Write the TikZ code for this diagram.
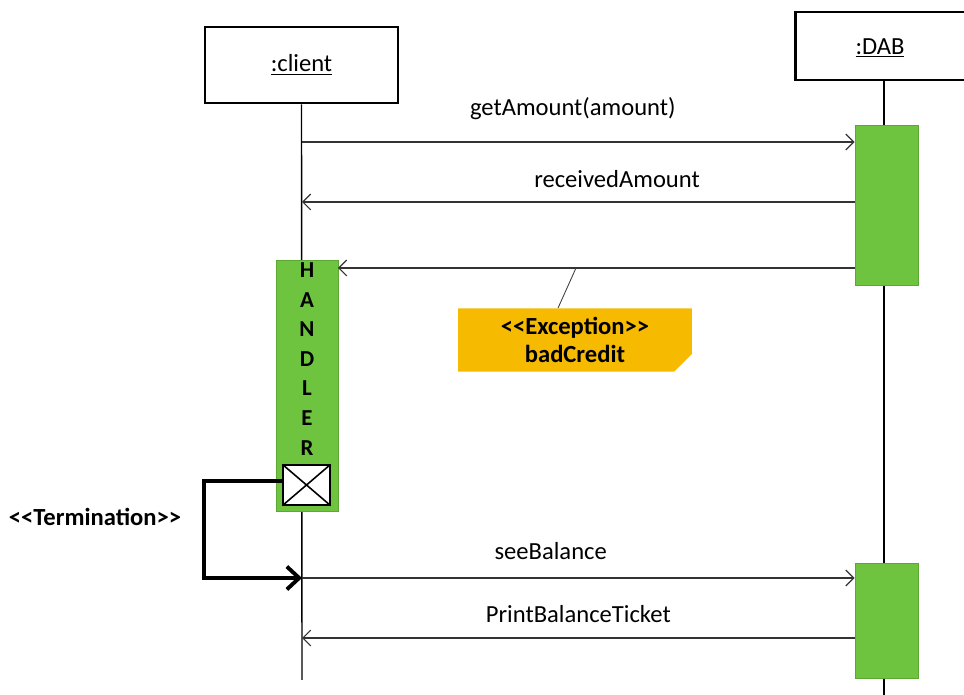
\documentclass[tikz,border=0pt]{standalone}
\usepackage{fontspec}
\setmainfont{Carlito}
\usetikzlibrary{shapes.misc,arrows.meta}

\definecolor{actgreen}{RGB}{110,196,62}
\definecolor{notegold}{RGB}{246,186,0}

\tikzset{
  objbox/.style={draw, line width=1.6pt, fill=white, inner sep=0pt},
  actbar/.style={fill=actgreen, draw=actgreen!85!black, line width=0.4pt, inner sep=0pt},
  msg/.style={->, line width=0.7pt, draw=black!80},
  lbl/.style={font=\fontsize{14}{16}\selectfont},
}

\begin{document}
\begin{tikzpicture}[x=0.02cm, y=-0.02cm, >={Straight Barb[length=4.5pt,width=9pt]}]
  \useasboundingbox (0,0) rectangle (964,695);

  % objects
  \node[objbox, minimum width=3.86cm, minimum height=1.52cm] (client) at (301.5,65) {};
  \node[lbl] at (client.center) {\underline{:client}};
  \node[objbox, minimum width=3.7cm, minimum height=1.36cm] (dab) at (888,46) {};
  \node[lbl] at (880,48) {\underline{:DAB}};

  % lifelines
  \coordinate (clientend) at (302,680);
  \coordinate (dabend) at (884,700);
  \draw[line width=0.8pt] (client.south) -- (clientend);
  \draw[line width=0.8pt] (dab.south -| dabend) -- (dabend);

  % activations
  \node[actbar, minimum width=1.26cm, minimum height=3.2cm] (act1) at (886.5,205) {};
  \node[actbar, minimum width=1.26cm, minimum height=2.3cm] (act2) at (886.5,620.5) {};
  \node[actbar, minimum width=1.24cm, minimum height=5.02cm] (handler) at (307,385.5) {};
  \foreach \l [count=\i] in {H,A,N,D,L,E,R}
    \node[font=\bfseries\fontsize{13}{15}\selectfont] (h\i) at (307,{270+(\i-1)*29.6}) {\l};
  \node[draw, line width=0.7pt, fill=white, minimum width=0.94cm, minimum height=0.8cm, inner sep=0pt] (xbox) at (306.5,485) {};
  \draw[line width=0.9pt] (xbox.north west) -- (xbox.south east);
  \draw[line width=0.9pt] (xbox.south west) -- (xbox.north east);

  % messages
  \coordinate (c1) at (302,142);
  \coordinate (c2) at (302,202);
  \coordinate (c3) at (338,268);
  \coordinate (c4) at (302,578);
  \coordinate (c5) at (302,638);
  \draw[msg] (c1) -- (c1 -| act1.west) node[lbl, pos=0.49, above=9pt] {getAmount(amount)};
  \draw[msg] (c2 -| act1.west) -- (c2) node[lbl, pos=0.43, above=4.5pt] {receivedAmount};
  \draw[msg] (c3 -| act1.west) -- (c3);
  \draw[msg] (c4) -- (c4 -| act2.west) node[lbl, pos=0.45, above=6.5pt] {seeBalance};
  \draw[msg] (c5 -| act2.west) -- (c5) node[lbl, pos=0.5, above=5pt] {PrintBalanceTicket};

  % exception note
  \node[chamfered rectangle, chamfered rectangle corners=south east,
        chamfered rectangle xsep=5pt, chamfered rectangle ysep=5pt,
        fill=notegold, minimum width=4.68cm, minimum height=1.12cm,
        inner sep=0pt, align=center, font=\bfseries\fontsize{14}{16}\selectfont] (note) at (575,340)
        {<\kern0pt<Exception>\kern0pt>\\badCredit};
  \coordinate (ex) at (576,268);
  \draw[line width=0.5pt, draw=black!75] (ex) -- ([xshift=-0.34cm]note.north);

  % termination
  \node[font=\bfseries\fontsize{14}{16}\selectfont] (term) at (95,517) {<\kern0pt<Termination>\kern0pt>};
  \draw[-{Straight Barb[length=7pt,width=13pt]}, line width=2.2pt] ([yshift=0.08cm]xbox.west) -- ++(-78,0) |- (c4);
\end{tikzpicture}
\end{document}
